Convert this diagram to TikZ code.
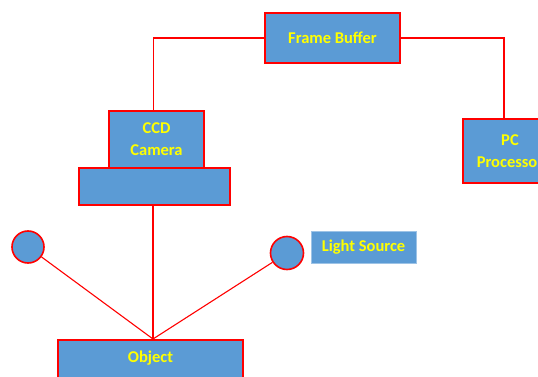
\documentclass[tikz,border=0pt]{standalone}
\usepackage{fontspec}
\setmainfont{Carlito}
\definecolor{boxblue}{HTML}{5B9BD5}
\definecolor{edgeblue}{HTML}{9DC3E6}
\definecolor{lblyellow}{HTML}{FFFF00}
\tikzset{
  blk/.style={draw=red, line width=1.6pt, fill=boxblue, text=lblyellow, font=\bfseries\fontsize{16.5}{22}\selectfont, align=center, inner sep=0pt},
  lamp/.style={circle, draw=red, line width=1.6pt, fill=boxblue, inner sep=0pt},
  wire/.style={red, line width=1.1pt}
}
\begin{document}
\begin{tikzpicture}[x=1pt,y=-1pt]
\useasboundingbox (0,0) rectangle (538,377);
\node[blk, minimum width=135pt, minimum height=50pt] (fb) at (332.5,38) {Frame Buffer};
\node[blk, minimum width=95pt, minimum height=57pt] (ccd) at (156.5,139.5) {CCD\\Camera};
\node[blk, minimum width=151pt, minimum height=37pt] (lens) at (154.5,186.5) {};
\node[blk, minimum width=94pt, minimum height=64pt] (pc) at (510,151) {PC\\Processor};
\node[lamp, minimum size=32pt] (lampl) at (28,247) {};
\node[lamp, minimum size=33pt] (lampr) at (287,253) {};
\node[blk, draw=edgeblue, line width=0.6pt, minimum width=105pt, minimum height=32pt] (ls) at (363.5,247) {Light Source};
\node[blk, anchor=north, minimum width=185pt, minimum height=56pt, text depth=22pt] (obj) at (150.5,339) {Object};
\coordinate (meet) at ([xshift=2.5pt]obj.north);
\draw[wire] (fb.west) -| ([xshift=-3pt]ccd.north);
\draw[wire] (fb.east) -| ([xshift=-6pt]pc.north);
\draw[wire] (lens.south -| meet) -- (meet);
\draw[wire] (lampl) -- (meet);
\draw[wire] (lampr) -- (meet);
\end{tikzpicture}
\end{document}
